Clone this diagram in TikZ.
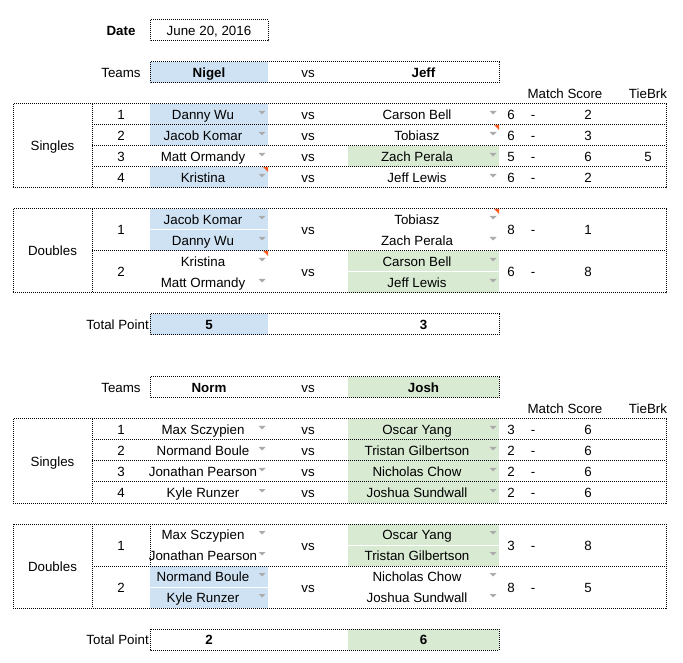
\documentclass[tikz,border=0pt]{standalone}
\usepackage{fontspec}
\setmainfont{Liberation Sans}
\definecolor{teamblue}{HTML}{CFE2F3}
\definecolor{teamgreen}{HTML}{D9EAD3}
\definecolor{dropgrey}{HTML}{ABABAB}
\definecolor{notered}{HTML}{FF5A1F}
\tikzset{
	cellline/.style={line width=0.75pt,dash pattern=on 0.75pt off 0.75pt},
	celltxt/.style={anchor=base,inner sep=0pt,font=\fontsize{10}{12}\selectfont},
	boldtxt/.style={celltxt,font=\fontsize{10}{12}\selectfont\bfseries},
}
% grey drop-down arrow, x = centre, y = top of row
\newcommand{\dropmark}[2]{\fill[dropgrey] (#1-3.5,#2+7) -- (#1+3.5,#2+7) -- (#1,#2+10.5) -- cycle;}
% red note corner, x = right edge, y = top of cell
\newcommand{\notemark}[2]{\fill[notered] (#1-5,#2) -- (#1,#2) -- (#1,#2+5) -- cycle;}
\begin{document}
\begin{tikzpicture}[x=0.75pt,y=-0.75pt]
	\useasboundingbox (0,0) rectangle (683,663);
	% date
	\node[boldtxt] (datelbl) at (121,35.5) {Date};
	\node[celltxt] (date) at (209,35.5) {June 20, 2016};
	\draw[cellline] (150,20) rectangle (268,41);

	% first match
	\fill[teamblue] (150,62) rectangle (268,83);
	\fill[teamblue] (150,104) rectangle (268,146);
	\fill[teamgreen] (348,146) rectangle (499,167);
	\fill[teamblue] (150,167) rectangle (268,188);
	\fill[teamblue] (150,209) rectangle (268,229.5);
	\fill[teamblue] (150,230.5) rectangle (268,251);
	\fill[teamgreen] (348,251) rectangle (499,271.5);
	\fill[teamgreen] (348,272.5) rectangle (499,293);
	\fill[teamblue] (150,314) rectangle (268,335);
	\node[celltxt] (teams1) at (121,77.5) {Teams};
	\node[boldtxt] (teamA1) at (209,77.5) {Nigel};
	\node[celltxt] (vs1) at (308,77.5) {vs};
	\node[boldtxt] (teamB1) at (423.5,77.5) {Jeff};
	\draw[cellline] (150,62) rectangle (499,83);
	\node[celltxt] (score1) at (565,98.5) {Match Score};
	\node[celltxt] (tie1) at (648,98.5) {TieBrk};
	% singles
	\draw[cellline] (13,104) rectangle (666,188);
	\draw[cellline] (92,104) -- (92,188);
	\foreach \y in {125,146,167}
		\draw[cellline] (92,\y) -- (666,\y);
	\node[celltxt] (single1) at (52.5,151) {Singles};
	\foreach \i/\a/\b/\p/\q/\r in {1/Danny Wu/Carson Bell/6/2/,2/Jacob Komar/Tobiasz/6/3/,3/Matt Ormandy/Zach Perala/5/6/5,4/Kristina/Jeff Lewis/6/2/}{
		\pgfmathsetmacro\t{104+21*(\i-1)}
		\node[celltxt] (sn1-\i) at (121,\t+15.5) {\i};
		\node[celltxt] (sa1-\i) at (203,\t+15.5) {\a};
		\node[celltxt] (sv1-\i) at (308,\t+15.5) {vs};
		\node[celltxt] (sb1-\i) at (417,\t+15.5) {\b};
		\node[celltxt] (sp1-\i) at (511,\t+15.5) {\p};
		\node[celltxt] (sd1-\i) at (533,\t+15.5) {-};
		\node[celltxt] (sq1-\i) at (588,\t+15.5) {\q};
		\node[celltxt] (sr1-\i) at (648,\t+15.5) {\r};
		\dropmark{262}{\t}
		\dropmark{493}{\t}
	}
	\notemark{499}{125}
	\notemark{268}{167}
	% doubles
	\draw[cellline] (13,209) rectangle (666,293);
	\draw[cellline] (92,209) -- (92,293);
	\draw[cellline] (92,251) -- (666,251);
	\node[celltxt] (double1) at (52.5,256) {Doubles};
	\foreach \i/\a/\aa/\b/\bb/\p/\q in {1/Jacob Komar/Danny Wu/Tobiasz/Zach Perala/8/1,2/Kristina/Matt Ormandy/Carson Bell/Jeff Lewis/6/8}{
		\pgfmathsetmacro\t{209+42*(\i-1)}
		\node[celltxt] (dn1-\i) at (121,\t+26) {\i};
		\node[celltxt] (da1-\i) at (203,\t+15.5) {\a};
		\node[celltxt] (daa1-\i) at (203,\t+36.5) {\aa};
		\node[celltxt] (dv1-\i) at (308,\t+26) {vs};
		\node[celltxt] (db1-\i) at (417,\t+15.5) {\b};
		\node[celltxt] (dbb1-\i) at (417,\t+36.5) {\bb};
		\node[celltxt] (dp1-\i) at (511,\t+26) {\p};
		\node[celltxt] (dd1-\i) at (533,\t+26) {-};
		\node[celltxt] (dq1-\i) at (588,\t+26) {\q};
		\dropmark{262}{\t}
		\dropmark{262}{\t+21}
		\dropmark{493}{\t}
		\dropmark{493}{\t+21}
	}
	\notemark{499}{209}
	\notemark{268}{251}
	% total
	\node[celltxt,anchor=base east] (total1) at (149,329.5) {Total Point};
	\node[boldtxt] (totA1) at (209,329.5) {5};
	\node[boldtxt] (totB1) at (423.5,329.5) {3};
	\draw[cellline] (150,314) rectangle (499,335);

	% second match
	\begin{scope}[shift={(0,315)}]
		\fill[teamgreen] (348,62) rectangle (499,83);
		\fill[teamgreen] (348,104) rectangle (499,188);
		\fill[teamgreen] (348,209) rectangle (499,229.5);
		\fill[teamgreen] (348,230.5) rectangle (499,251);
		\fill[teamblue] (150,251) rectangle (268,271.5);
		\fill[teamblue] (150,272.5) rectangle (268,293);
		\fill[teamgreen] (348,314) rectangle (499,335);
		\node[celltxt] (teams2) at (121,77.5) {Teams};
		\node[boldtxt] (teamA2) at (209,77.5) {Norm};
		\node[celltxt] (vs2) at (308,77.5) {vs};
		\node[boldtxt] (teamB2) at (423.5,77.5) {Josh};
		\draw[cellline] (150,62) rectangle (499,83);
		\node[celltxt] (score2) at (565,98.5) {Match Score};
		\node[celltxt] (tie2) at (648,98.5) {TieBrk};
		% singles
		\draw[cellline] (13,104) rectangle (666,188);
		\draw[cellline] (92,104) -- (92,188);
		\foreach \y in {125,146,167}
			\draw[cellline] (92,\y) -- (666,\y);
		\node[celltxt] (single2) at (52.5,151) {Singles};
		\foreach \i/\a/\b/\p/\q in {1/Max Sczypien/Oscar Yang/3/6,2/Normand Boule/Tristan Gilbertson/2/6,3/Jonathan Pearson/Nicholas Chow/2/6,4/Kyle Runzer/Joshua Sundwall/2/6}{
			\pgfmathsetmacro\t{104+21*(\i-1)}
			\node[celltxt] (sn2-\i) at (121,\t+15.5) {\i};
			\node[celltxt] (sa2-\i) at (203,\t+15.5) {\a};
			\node[celltxt] (sv2-\i) at (308,\t+15.5) {vs};
			\node[celltxt] (sb2-\i) at (417,\t+15.5) {\b};
			\node[celltxt] (sp2-\i) at (511,\t+15.5) {\p};
			\node[celltxt] (sd2-\i) at (533,\t+15.5) {-};
			\node[celltxt] (sq2-\i) at (588,\t+15.5) {\q};
			\dropmark{262}{\t}
			\dropmark{493}{\t}
		}
		% doubles
		\draw[cellline] (13,209) rectangle (666,293);
		\draw[cellline] (92,209) -- (92,293);
		\draw[cellline] (150,209) -- (150,251);
		\draw[cellline] (92,251) -- (666,251);
		\node[celltxt] (double2) at (52.5,256) {Doubles};
		\foreach \i/\a/\aa/\b/\bb/\p/\q in {1/Max Sczypien/Jonathan Pearson/Oscar Yang/Tristan Gilbertson/3/8,2/Normand Boule/Kyle Runzer/Nicholas Chow/Joshua Sundwall/8/5}{
			\pgfmathsetmacro\t{209+42*(\i-1)}
			\node[celltxt] (dn2-\i) at (121,\t+26) {\i};
			\node[celltxt] (da2-\i) at (203,\t+15.5) {\a};
			\node[celltxt] (daa2-\i) at (203,\t+36.5) {\aa};
			\node[celltxt] (dv2-\i) at (308,\t+26) {vs};
			\node[celltxt] (db2-\i) at (417,\t+15.5) {\b};
			\node[celltxt] (dbb2-\i) at (417,\t+36.5) {\bb};
			\node[celltxt] (dp2-\i) at (511,\t+26) {\p};
			\node[celltxt] (dd2-\i) at (533,\t+26) {-};
			\node[celltxt] (dq2-\i) at (588,\t+26) {\q};
			\dropmark{262}{\t}
			\dropmark{262}{\t+21}
			\dropmark{493}{\t}
			\dropmark{493}{\t+21}
		}
		% total
		\node[celltxt,anchor=base east] (total2) at (149,329.5) {Total Point};
		\node[boldtxt] (totA2) at (209,329.5) {2};
		\node[boldtxt] (totB2) at (423.5,329.5) {6};
		\draw[cellline] (150,314) rectangle (499,335);
	\end{scope}
\end{tikzpicture}
\end{document}
